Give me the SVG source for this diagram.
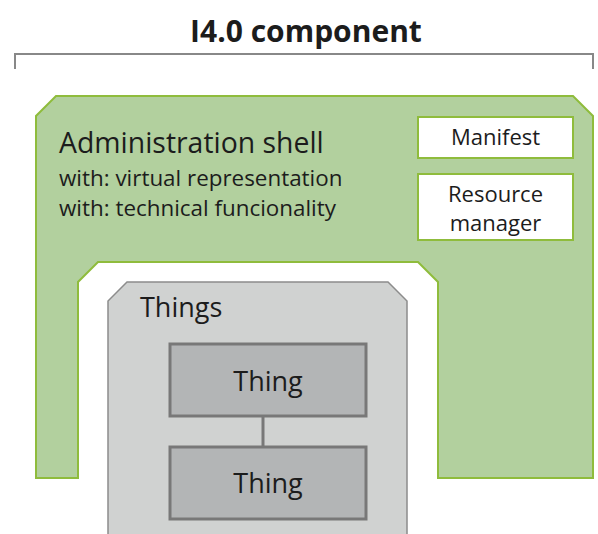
<svg xmlns="http://www.w3.org/2000/svg" width="598" height="534" viewBox="0 0 598 534">
<style>
text{font-family:"Open Sans","Noto Sans","Liberation Sans",sans-serif;fill:#1c1c1c}
.shell{fill:#b2d09e;stroke:#8fbc3c;stroke-width:2}
.box{fill:#ffffff;stroke:#8fbc3c;stroke-width:2}
.things{fill:#d0d2d1;stroke:#8c8c8c;stroke-width:1.5}
.thing{fill:#b3b5b6;stroke:#787878;stroke-width:3}
.conn{stroke:#787878;stroke-width:3;fill:none}
.bracket{stroke:#888888;stroke-width:2;fill:none}
</style>
<rect width="598" height="534" fill="#ffffff"/>
<g id="title">
<text x="306" y="42" font-size="30" font-weight="bold" text-anchor="middle">I4.0 component</text>
<path class="bracket" d="M15,69 L15,54 L593,54 L593,69"/>
</g>
<g id="admin-shell">
<path class="shell" d="M56,96 L573,96 L593,116 L593,478 L438,478 L438,282 L418,262 L98,262 L78,282 L78,478 L36,478 L36,116 Z"/>
<text x="59" y="153" font-size="28.4">Administration shell</text>
<text x="59" y="186" font-size="22.4">with: virtual representation</text>
<text x="59" y="216" font-size="22.4">with: technical funcionality</text>
</g>
<g id="manifest">
<rect class="box" x="418" y="117" width="155" height="41"/>
<text x="495.5" y="145" font-size="22" text-anchor="middle">Manifest</text>
</g>
<g id="resource-manager">
<rect class="box" x="418" y="174" width="155" height="66"/>
<text x="495.5" y="201.5" font-size="22" text-anchor="middle">Resource</text>
<text x="495.5" y="231" font-size="22" text-anchor="middle">manager</text>
</g>
<g id="things">
<path class="things" d="M108,540 L108,301 L127,282 L388,282 L407,301 L407,540"/>
<text x="140" y="317" font-size="27">Things</text>
</g>
<g id="connectors">
<line class="conn" x1="263" y1="416" x2="263" y2="447"/>
</g>
<g id="thing-1">
<rect class="thing" x="170" y="344" width="196" height="72"/>
<text x="268" y="391" font-size="27" text-anchor="middle">Thing</text>
</g>
<g id="thing-2">
<rect class="thing" x="170" y="447" width="196" height="72"/>
<text x="268" y="493" font-size="27" text-anchor="middle">Thing</text>
</g>
</svg>
